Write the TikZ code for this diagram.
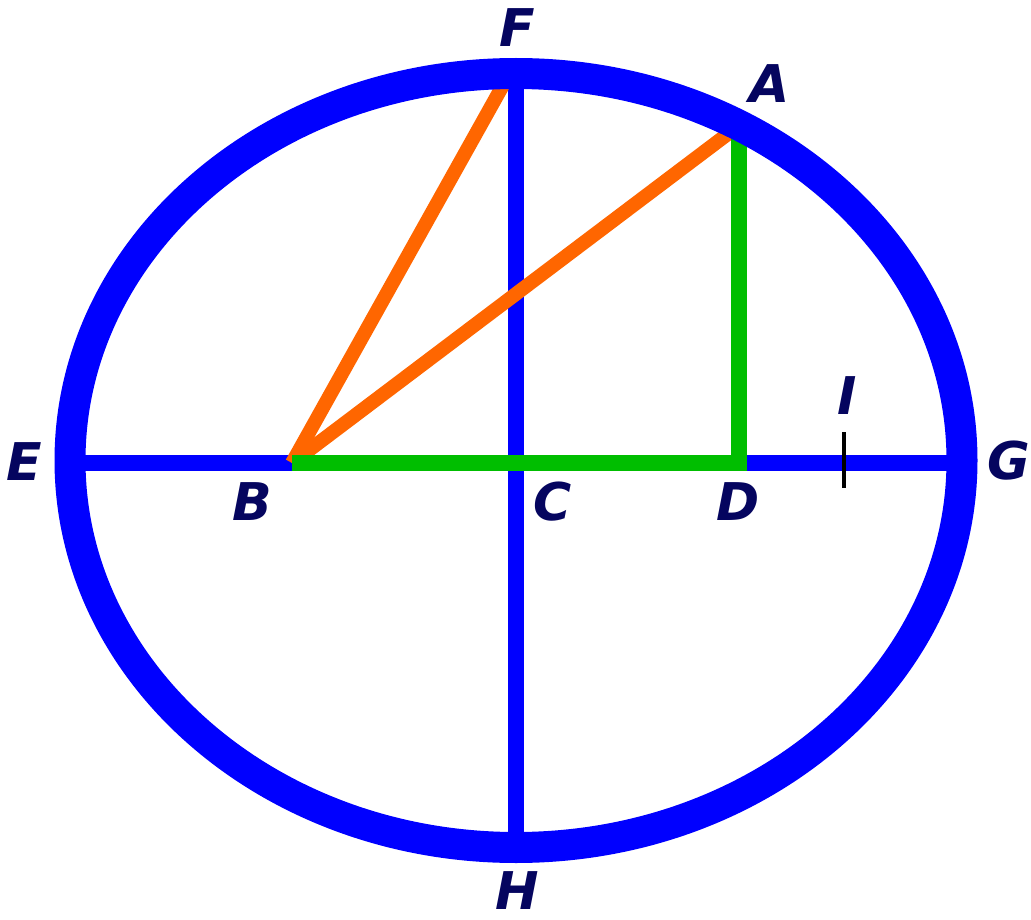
\documentclass[tikz,border=0pt]{standalone}
\usepackage{fontspec}
\setmainfont{DejaVu Sans}
\begin{document}
\begin{tikzpicture}[x=1pt,y=1pt,
  lbl/.style={text=labelnavy,font=\fontsize{52}{52}\selectfont\bfseries\itshape,inner sep=0pt},
  axisline/.style={draw=pureblue,line width=16.5pt},
  orangeline/.style={draw=lineorange,line width=14pt},
  greenline/.style={draw=linegreen,line width=16pt,line join=miter},
  rim/.style={draw=pureblue,line width=31pt}]
\definecolor{pureblue}{RGB}{0,0,255}
\definecolor{lineorange}{RGB}{255,102,0}
\definecolor{linegreen}{RGB}{0,190,0}
\definecolor{labelnavy}{RGB}{5,5,95}
\useasboundingbox (0,0) rectangle (1031,-920);
\fill[white] (0,0) rectangle (1031,-920);
% points
\coordinate (E) at (70,-463);
\coordinate (G) at (962,-463);
\coordinate (F) at (516,-73.5);
\coordinate (H) at (516,-847.5);
\coordinate (B) at (292,-463);
\coordinate (C) at (516,-463);
\coordinate (D) at (739,-463);
\coordinate (A) at (739,-125.5);
\coordinate (Ftop) at (507,-78);
\coordinate (Ia) at (844,-432);
\coordinate (Ib) at (844,-488);
% axes
\draw[axisline] (E) -- (G);
\draw[axisline] (F) -- (H);
% triangles
\draw[orangeline] (B) -- (Ftop);
\draw[orangeline] (B) -- (A);
\draw[greenline] (B) -- (D) -- (A);
% tick
\draw[black,line width=4pt] (Ia) -- (Ib);
% rim
\draw[rim] (516,-460.5) ellipse [x radius=446, y radius=387];
% labels
\node[lbl] (lE) at (24,-462) {E};
\node[lbl] (lB) at (252,-502) {B};
\node[lbl] (lF) at (517,-28) {F};
\node[lbl] (lA) at (770,-84) {A};
\node[lbl] (lC) at (553,-502) {C};
\node[lbl] (lD) at (738,-502) {D};
\node[lbl] (lI) at (847,-396) {I};
\node[lbl] (lG) at (1009,-461) {G};
\node[lbl] (lH) at (517,-891) {H};
\end{tikzpicture}
\end{document}
